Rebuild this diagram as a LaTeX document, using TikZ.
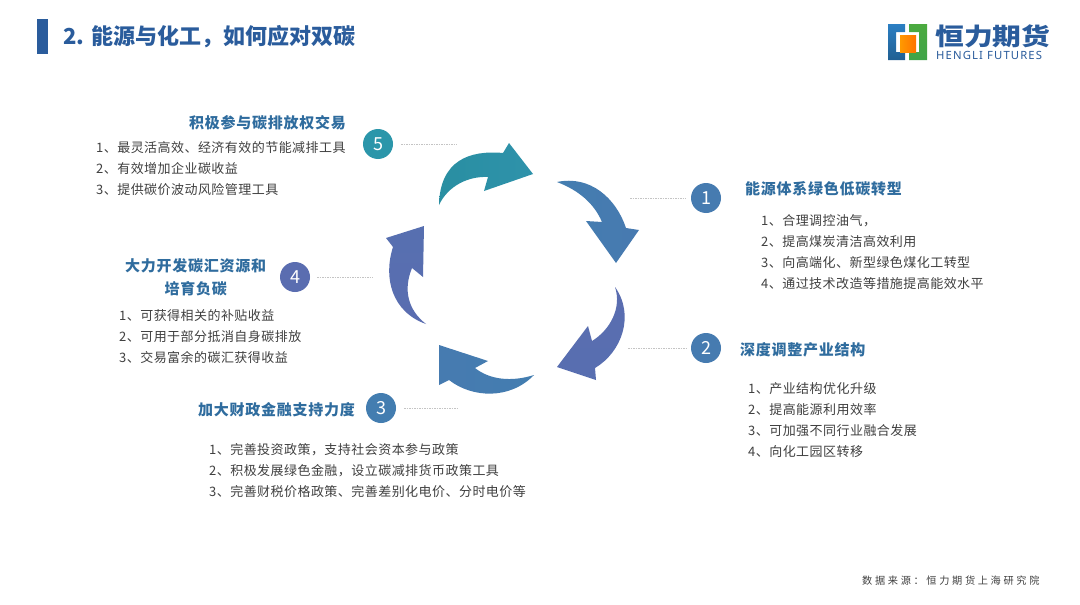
\documentclass[tikz,border=0pt]{standalone}
\usepackage{fontspec}
\setmainfont{Noto Sans CJK SC}
\newfontfamily\itemf[LetterSpace=3.5]{Noto Sans CJK SC}
\newfontfamily\headf[LetterSpace=5]{Noto Sans CJK SC}
\newfontfamily\srcf[LetterSpace=26]{Noto Sans CJK SC}
\newfontfamily\logof[LetterSpace=10]{Noto Sans}
\definecolor{tealc}{HTML}{2B96AA}
\definecolor{bluec}{HTML}{437DB0}
\definecolor{purpc}{HTML}{5A6DB0}
\definecolor{headc}{HTML}{2F6C9E}
\definecolor{textc}{HTML}{404040}
\definecolor{titlec}{HTML}{2A5C9C}
\definecolor{dashc}{HTML}{C4C4C4}
\definecolor{logob}{HTML}{2B7FC3}
\definecolor{logog}{HTML}{4BAA3F}
\tikzset{
  numc/.style={circle,minimum size=30pt,inner sep=0pt,text=white,font=\fontsize{18}{18}\selectfont},
  itemtext/.style={anchor=west,inner sep=0pt,align=left,text=textc,font=\itemf\fontsize{13}{21}\selectfont},
  headtext/.style={anchor=west,inner sep=0pt,text=headc,align=center,font=\headf\bfseries\fontsize{15}{23}\selectfont},
  leader/.style={draw=dashc,dash pattern=on 1.5pt off 1pt,line width=0.7pt},
}
\begin{document}
\begin{tikzpicture}[x=1pt,y=-1pt]
\useasboundingbox (0,0) rectangle (1080,605);
\fill[white] (0,0) rectangle (1080,605);
% title
\fill[titlec] (37,19) rectangle (48,54);
\node[anchor=west,inner sep=0pt,text=titlec,font=\bfseries\fontsize{22}{24}\selectfont] (title) at (63,37) {2. 能源与化工，如何应对双碳};
% logo
\shade[top color=logob,bottom color=logob!75!black] (888,24) -- (905,24) -- (905,32) -- (896,32) -- (896,52) -- (905,52) -- (905,60) -- (888,60) -- cycle;
\shade[top color=logog,bottom color=logog!85!teal] (909,24) -- (927,24) -- (927,60) -- (909,60) -- (909,52) -- (919,52) -- (919,32) -- (909,32) -- cycle;
\shade[left color=orange!80!yellow,right color=orange!90!red] (900,35) rectangle (916,52);
\node[anchor=west,inner sep=0pt,text=titlec,xscale=1.2,font=\bfseries\fontsize{24}{26}\selectfont] (logoa) at (935,36) {恒力期货};
\node[anchor=west,inner sep=0pt,text=titlec,font=\logof\bfseries\fontsize{11.3}{12}\selectfont] (logob) at (936,55) {HENGLI FUTURES};
% arrows
\shade[left color=tealc!95!black,right color=tealc!85!bluec]
  (439,205) .. controls (440,160) and (470,150) .. (503,153) -- (509,143) -- (533,174) -- (484,191) -- (488,177)
  .. controls (468,176) and (448,186) .. (439,205) -- cycle;
\shade[left color=bluec,right color=bluec!80!purpc]
  (557,182) .. controls (590,175) and (616,198) .. (626,228) -- (639,230) -- (616,263) -- (586,221) -- (602,222)
  .. controls (594,203) and (578,190) .. (557,182) -- cycle;
\shade[top color=purpc,bottom color=purpc!90!bluec]
  (615,287) .. controls (635,315) and (622,352) .. (595,368) -- (596,380) -- (557,367) -- (588,326) -- (592,341)
  .. controls (610,330) and (622,308) .. (615,287) -- cycle;
\shade[left color=bluec!85!purpc,right color=bluec]
  (534,375) .. controls (510,400) and (472,398) .. (449,380) -- (439,385) -- (439,345) -- (488,361) -- (475,368)
  .. controls (490,380) and (512,382) .. (534,375) -- cycle;
\shade[top color=purpc!85!bluec,bottom color=purpc]
  (426,324) .. controls (392,312) and (383,278) .. (393,247) -- (386,238) -- (424,226) -- (423,277) -- (412,268)
  .. controls (403,290) and (408,310) .. (426,324) -- cycle;
% number circles
\node[numc,fill=tealc] (n5) at (378,144) {5};
\node[numc,fill=bluec!85!purpc] (n1) at (706,198) {1};
\node[numc,fill=bluec!85!purpc] (n2) at (706,348) {2};
\node[numc,fill=bluec] (n3) at (381,408) {3};
\node[numc,fill=purpc] (n4) at (295,277) {4};
% leaders
\coordinate (e5) at (457,144);
\coordinate (e1) at (630,198);
\coordinate (e2) at (628,348);
\coordinate (e3) at (459,408);
\coordinate (e4) at (373,277);
\path[leader] ([xshift=8pt]n5.east) -- (e5);
\path[leader] (e1) -- ([xshift=-5pt]n1.west);
\path[leader] (e2) -- ([xshift=-5pt]n2.west);
\path[leader] ([xshift=8pt]n3.east) -- (e3);
\path[leader] ([xshift=7pt]n4.east) -- (e4);
% headings
\node[headtext] (h5) at (189,123) {积极参与碳排放权交易};
\node[headtext] (h1) at (745,189) {能源体系绿色低碳转型};
\node[headtext] (h2) at (740,350) {深度调整产业结构};
\node[headtext] (h3) at (198,410) {加大财政金融支持力度};
\node[headtext] (h4) at (125,277) {大力开发碳汇资源和\\培育负碳};
% items
\node[itemtext] (t5) at (96,169) {1、最灵活高效、经济有效的节能减排工具\\2、有效增加企业碳收益\\3、提供碳价波动风险管理工具};
\node[itemtext] (t1) at (761,252.5) {1、合理调控油气，\\2、提高煤炭清洁高效利用\\3、向高端化、新型绿色煤化工转型\\4、通过技术改造等措施提高能效水平};
\node[itemtext] (t2) at (748,420) {1、产业结构优化升级\\2、提高能源利用效率\\3、可加强不同行业融合发展\\4、向化工园区转移};
\node[itemtext] (t3) at (209,471) {1、完善投资政策，支持社会资本参与政策\\2、积极发展绿色金融，设立碳减排货币政策工具\\3、完善财税价格政策、完善差别化电价、分时电价等};
\node[itemtext] (t4) at (119,337) {1、可获得相关的补贴收益\\2、可用于部分抵消自身碳排放\\3、交易富余的碳汇获得收益};
% source
\node[anchor=west,inner sep=0pt,text=textc,font=\srcf\fontsize{10.2}{12}\selectfont] (src) at (862,581) {数据来源：恒力期货上海研究院};
\end{tikzpicture}
\end{document}
